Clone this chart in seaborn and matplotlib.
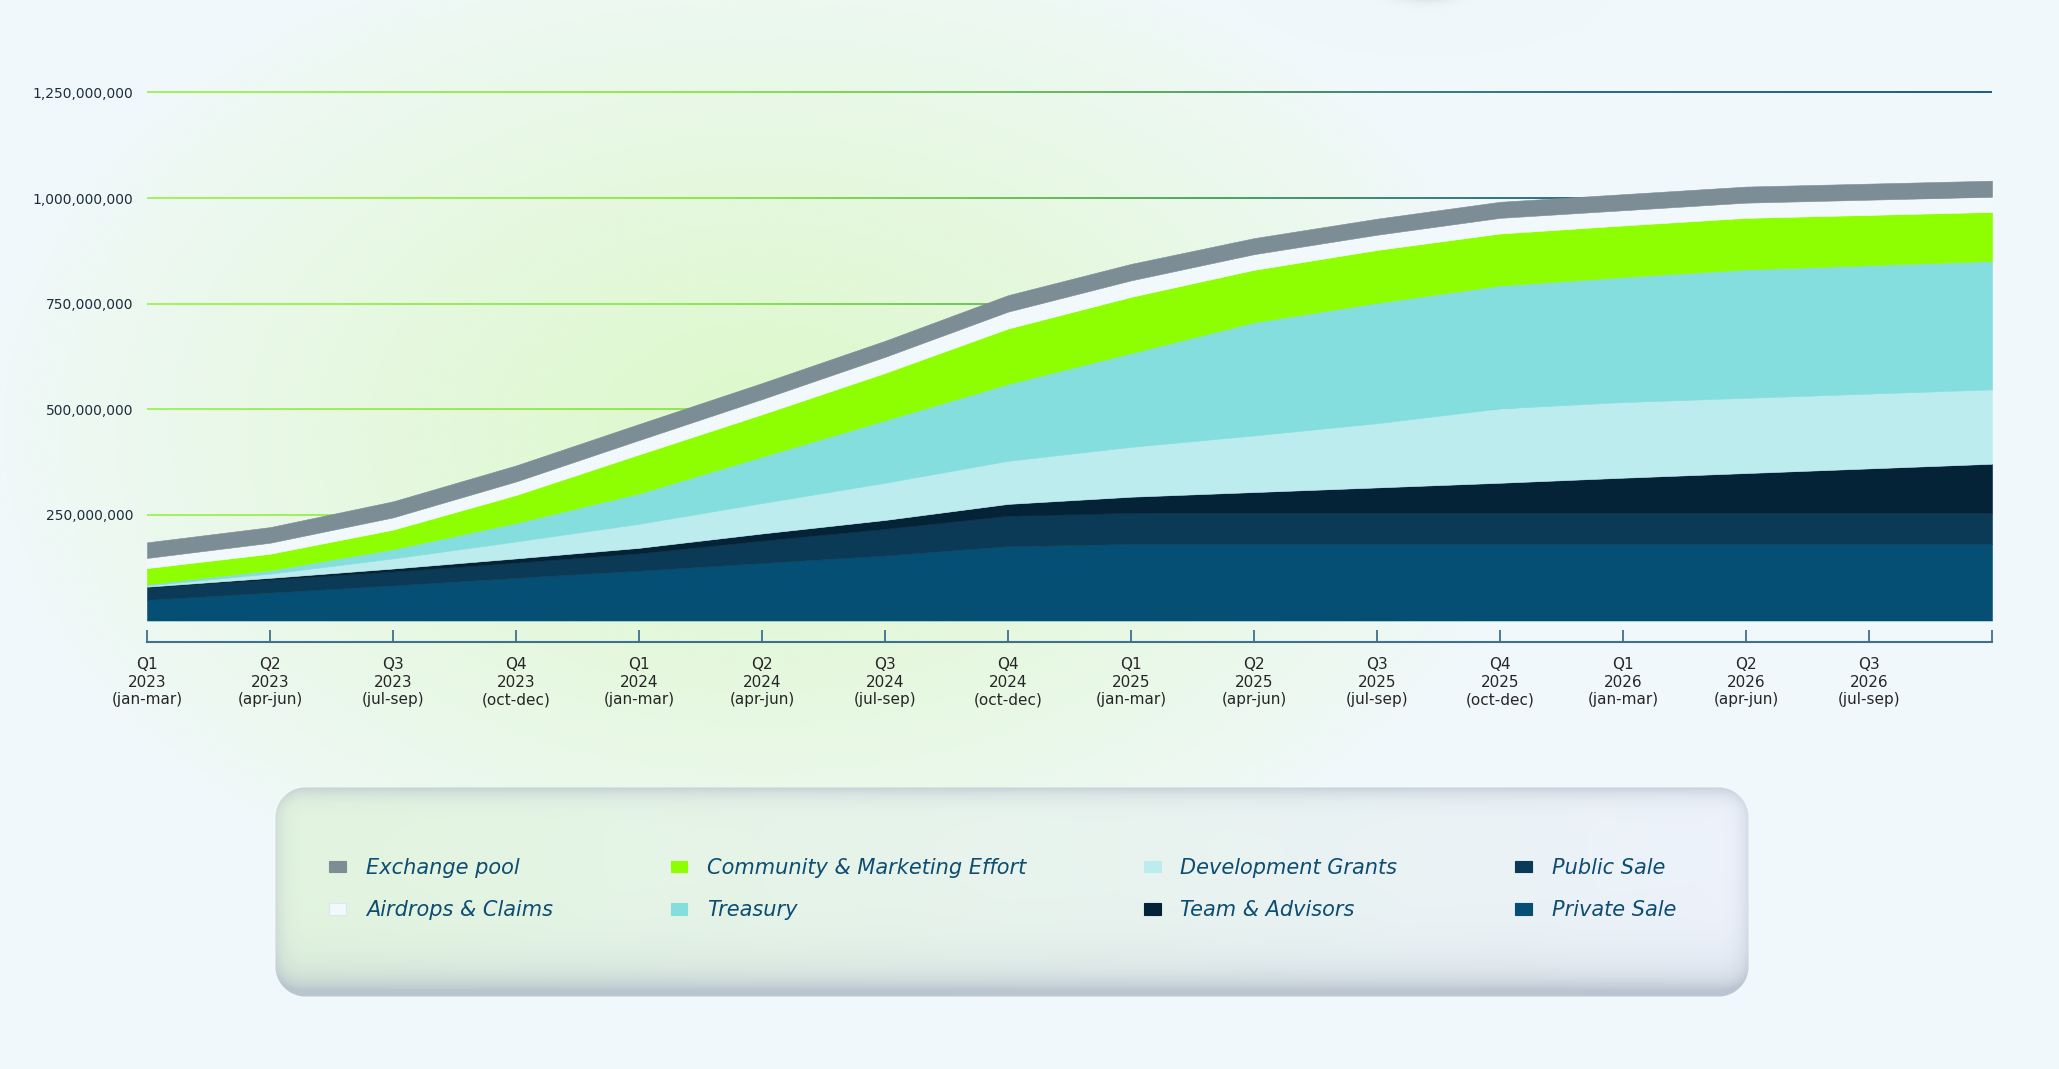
import numpy as np
import pandas as pd
import matplotlib
matplotlib.use("Agg")
import matplotlib.pyplot as plt
import seaborn as sns
from matplotlib.collections import LineCollection
from matplotlib.colors import LinearSegmentedColormap, to_rgb
from matplotlib.patches import Patch
from matplotlib.font_manager import FontProperties

# quarter labels (last tick has no label)
quarters = [
    "Q1\n2023\n(jan-mar)", "Q2\n2023\n(apr-jun)", "Q3\n2023\n(jul-sep)", "Q4\n2023\n(oct-dec)",
    "Q1\n2024\n(jan-mar)", "Q2\n2024\n(apr-jun)", "Q3\n2024\n(jul-sep)", "Q4\n2024\n(oct-dec)",
    "Q1\n2025\n(jan-mar)", "Q2\n2025\n(apr-jun)", "Q3\n2025\n(jul-sep)", "Q4\n2025\n(oct-dec)",
    "Q1\n2026\n(jan-mar)", "Q2\n2026\n(apr-jun)", "Q3\n2026\n(jul-sep)", "",
]

# unlocked tokens per allocation, millions
private_sale = [49, 66, 83, 101, 118, 136, 154, 176, 181, 181, 181, 181, 181, 181, 181, 181]
public_sale = [30, 31, 33, 36, 41, 53, 63, 72, 74, 74, 74, 74, 74, 74, 74, 74]
team_advisors = [1, 4, 7, 10, 13, 17, 21, 28, 38, 49, 60, 71, 83, 94, 105, 116]
dev_grants = [3, 10, 24, 40, 57, 72, 88, 102, 118, 134, 152, 176, 179, 178, 177, 176]
treasury = [3, 8, 22, 44, 72, 110, 148, 182, 222, 268, 285, 291, 296, 304, 304, 304]
community = [38, 39, 46, 66, 92, 100, 112, 131, 133, 124, 125, 123, 122, 122, 119, 116]
airdrops = [24, 26, 29, 32, 34, 36, 38, 40, 39, 37, 36, 37, 36, 36, 36, 36]
exchange_pool = [37, 37, 38, 38, 38, 38, 38, 39, 39, 38, 38, 38, 38, 38, 38, 38]

yticks = [250e6, 500e6, 750e6, 1000e6, 1250e6]

series = {
    "Private Sale": (private_sale, "#054f74"),
    "Public Sale": (public_sale, "#0a3a55"),
    "Team & Advisors": (team_advisors, "#052336"),
    "Development Grants": (dev_grants, "#bcecee"),
    "Treasury": (treasury, "#84dede"),
    "Community & Marketing Effort": (community, "#8eff00"),
    "Airdrops & Claims": (airdrops, "#f2f9fd"),
    "Exchange pool": (exchange_pool, "#7d8d96"),
}
legend_order = ["Exchange pool", "Airdrops & Claims", "Community & Marketing Effort", "Treasury",
                "Development Grants", "Team & Advisors", "Public Sale", "Private Sale"]

df = pd.DataFrame({k: np.array(v[0]) * 1e6 for k, v in series.items()})
df["q"] = np.arange(len(df))

sns.set_theme(style="white")
plt.rcParams["font.family"] = ["DejaVu Sans"]

W, H = 2059, 1069
fig = plt.figure(figsize=(W / 100, H / 100), dpi=100)

# ---- background: pale blue with green glow + legend panel ----
yy, xx = np.mgrid[0:H, 0:W].astype(float)
base = np.array(to_rgb("#f1f8fb"))
glow = np.array(to_rgb("#ddf8ca"))
d = np.sqrt(((xx - 760) / 780) ** 2 + ((yy - 430) / 520) ** 2)
w = np.clip(1 - d, 0, 1) ** 0.85
img = base[None, None, :] * (1 - w[..., None]) + glow[None, None, :] * w[..., None]

# small shadow blob at top
blob = np.exp(-((xx - 1425) ** 2 / (2 * 22 ** 2) + (yy + 12) ** 2 / (2 * 8 ** 2))) * 0.55
img = img * (1 - blob[..., None]) + np.array(to_rgb("#8fa2a8"))[None, None, :] * blob[..., None]

# legend panel
x0, x1, y0, y1, r = 275, 1748, 787, 996, 30
cx, cy = (x0 + x1) / 2, (y0 + y1) / 2
hw, hh = (x1 - x0) / 2, (y1 - y0) / 2
qx = np.maximum(np.abs(xx - cx) - (hw - r), 0)
qy = np.maximum(np.abs(yy - cy) - (hh - r), 0)
dist = np.sqrt(qx ** 2 + qy ** 2) - r
t = np.clip((xx - x0) / (x1 - x0), 0, 1)[..., None]
fill = np.array(to_rgb("#e3f6df")) * (1 - t) + np.array(to_rgb("#eef3fc")) * t
s = (0.85 * np.exp(-np.clip(y1 - yy, 0, None) / 22) + 0.45 * np.exp(dist / 9)
     + 0.2 * np.exp(-np.clip(yy - y0, 0, None) / 10))
s = np.clip(s, 0, 0.85)[..., None]
panel = fill * (1 - s) + np.array(to_rgb("#b3becb")) * s
a = np.clip(0.5 - dist, 0, 1)[..., None]
img = img * (1 - a) + panel * a

bg = fig.add_axes([0, 0, 1, 1], zorder=-10)
bg.imshow(np.clip(img, 0, 1), extent=[0, 1, 0, 1], aspect="auto", origin="upper")
bg.axis("off")

# ---- main chart ----
ax = fig.add_axes([147 / W, 1 - 620.5 / H, 1845 / W, 549.25 / H])
ax.patch.set_alpha(0)

cols = list(series.keys())
ax.stackplot(df["q"], *[df[c] for c in cols], colors=[series[c][1] for c in cols],
             edgecolor="face", linewidth=0.4, zorder=2)

# gradient gridlines
cmap = LinearSegmentedColormap.from_list(
    "grid", [(0, "#a3f25c"), (0.3, "#8ee84e"), (0.5, "#66b85a"), (0.65, "#3f8a72"),
             (0.78, "#286a8a"), (1, "#1e5b82")])
xs = np.linspace(0, 15, 300)
for yv in yticks:
    pts = np.column_stack([xs, np.full_like(xs, yv)])
    segs = np.stack([pts[:-1], pts[1:]], axis=1)
    lc = LineCollection(segs, cmap=cmap, linewidth=1.4, zorder=1, clip_on=False)
    lc.set_array((xs[:-1] + xs[1:]) / 30)
    lc.set_clim(0, 1)
    ax.add_collection(lc)

ax.set_xlim(0, 15)
ax.set_ylim(0, 1.3e9)
ax.set_yticks(yticks)
ax.set_yticklabels([f"{int(v):,}" for v in yticks], fontsize=10, color="#1d2d3c")
ax.set_xticks(df["q"])
ax.set_xticklabels(quarters, fontsize=10, color="#1d2d3c", linespacing=1.35)
ax.tick_params(axis="y", left=False, length=0, pad=10)
ax.tick_params(axis="x", bottom=True, direction="in", length=9, width=1.3, color="#3f7090", pad=11)
sns.despine(ax=ax, left=True, top=True, right=True)
ax.spines["bottom"].set_position(("outward", 15.5))
ax.spines["bottom"].set_color("#3f7090")
ax.spines["bottom"].set_linewidth(1.5)
ax.grid(False)

# ---- legend ----
handles = []
for name in legend_order:
    c = series[name][1]
    ec = "#dfe7ee" if name == "Airdrops & Claims" else c
    handles.append(Patch(facecolor=c, edgecolor=ec, linewidth=0.8, label=name))
fig.legend(handles=handles, loc="center left", bbox_to_anchor=(319 / W, 1 - 889 / H), ncol=4,
           frameon=False, borderpad=0,
           prop=FontProperties(family="DejaVu Sans", style="oblique", size=15),
           labelcolor="#0d4d72", handlelength=0.8, handleheight=0.45, handletextpad=0.95,
           columnspacing=5.65, labelspacing=1.1)

fig.savefig("out.png", dpi=100)
